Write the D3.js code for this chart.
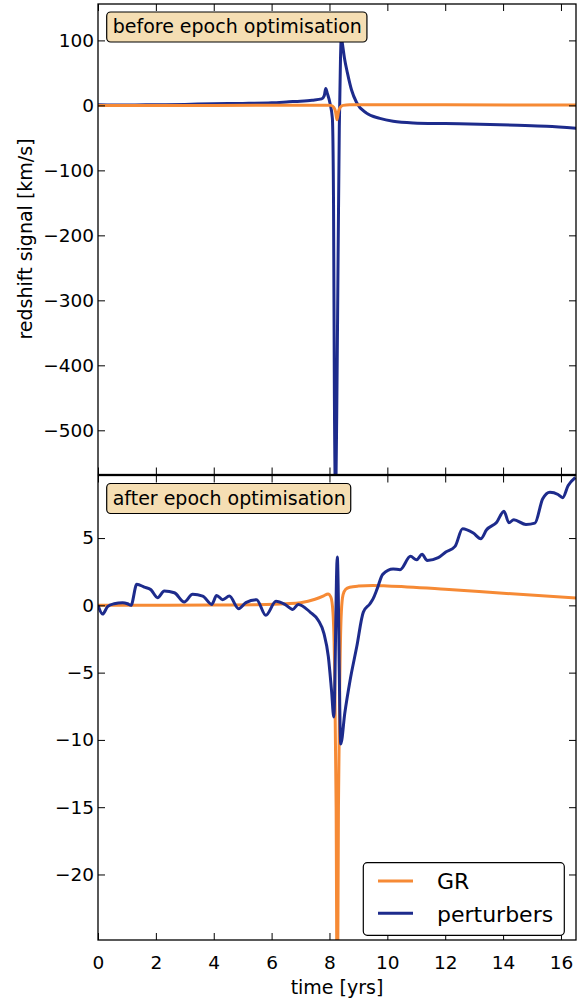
<!DOCTYPE html>
<html>
<head>
<meta charset="utf-8">
<script src="https://cdn.jsdelivr.net/npm/d3@7"></script>
<style>
  body { margin: 0; background: #fff; }
  text { font-family: "DejaVu Sans", sans-serif; fill: #000; }
</style>
</head>
<body>
<div id="chart"></div>
<script>
// [time in yrs, redshift signal in km/s]
var grBefore = [[0,0],[4,0],[7.9,0.3],[8.05,0],[8.15,-3],[8.21,-10],[8.26,-22],[8.31,-10],[8.37,-3],[8.47,0],
  [8.7,0.8],[9.5,1],[12,0.8],[16.6,0.4]];

var pertBefore = [[0,1],[1,0.5],[2,1],[3,1.5],[4,2.5],[5,3],[6,4],[6.6,5.5],[7,6.5],[7.4,8],[7.73,10],[7.82,15],
  [7.87,26],[7.93,18],[8.02,3],[8.1,-20],[8.14,-150],[8.17,-450],[8.21,-600],[8.25,-480],[8.3,-222],[8.34,-33],
  [8.38,70],[8.41,106],[8.45,94],[8.52,72],[8.62,50],[8.76,24],[8.94,4],[9.28,-12],[9.74,-20],[10.2,-24.5],
  [10.9,-27],[12,-28],[13.2,-29],[14.5,-30.5],[15.5,-32],[16.6,-35.5]];

var grAfter = [[0,0],[4,0.02],[5.5,0.05],[6.5,0.12],[7,0.2],[7.5,0.45],[7.8,0.7],[7.95,0.85],[8.05,0.6],[8.12,-0.5],
  [8.18,-5],[8.23,-15],[8.27,-32],[8.31,-15],[8.36,-5],[8.41,-0.5],[8.47,0.8],[8.56,1.2],[8.7,1.35],[9,1.43],
  [9.5,1.47],[10,1.44],[12,1.2],[14,0.9],[16.6,0.54]];

var pertAfter = [[0,0],[0.16,-0.65],[0.33,-0.1],[0.56,0.12],[0.85,0.2],[1.02,0.12],[1.14,0],[1.34,1.56],[1.6,1.36],
  [1.83,1.16],[2.06,0.57],[2.29,1.06],[2.64,0.94],[2.98,0.25],[3.27,0.82],[3.62,0.69],[3.93,0.07],[4.1,0.74],
  [4.31,0.42],[4.54,0.69],[4.86,-0.25],[5.11,0.2],[5.48,0.42],[5.8,-0.74],[6.15,0.3],[6.46,0.07],[6.73,-0.3],
  [6.92,0.07],[7.33,-0.5],[7.61,-1.1],[7.81,-2.1],[7.96,-3.8],[8.07,-6.3],[8.15,-8.3],[8.27,3.6],[8.39,-10.3],
  [8.53,-8],[8.71,-5.6],[8.94,-3.1],[9.17,-0.5],[9.4,0.12],[9.51,0.5],[9.65,1.24],[9.84,2.3],[10.2,2.7],
  [10.44,2.65],[10.8,3.64],[11.01,3.39],[11.2,3.79],[11.38,3.34],[11.76,3.54],[12.02,3.96],[12.34,4.38],
  [12.6,5.69],[12.97,5.37],[13.23,4.95],[13.43,5.62],[13.78,6.18],[14.03,7],[14.2,6.14],[14.37,6.36],
  [14.79,6.01],[15.1,6.11],[15.37,7.92],[15.62,8.41],[15.9,8.24],[16.06,8],[16.25,8.9],[16.5,9.5]];

var xTicks = [0,2,4,6,8,10,12,14,16];
var topTicks = [100,0,-100,-200,-300,-400,-500];
var bottomTicks = [5,0,-5,-10,-15,-20];
var seriesNames = ["GR", "perturbers"];
var colors = {GR: "#f68a35", perturbers: "#1d2b8c"};

var W = 578, H = 1003;
var left = 98, right = 576;

var svg = d3.select("#chart").append("svg")
    .attr("width", W)
    .attr("height", H);

var x = d3.scaleLinear().domain([0, 16.52]).range([left, right]);

var panels = [
  {id: "top", top: 4, bottom: 474.5, domain: [-568, 156], ticks: topTicks,
   gr: grBefore, pert: pertBefore, note: "before epoch optimisation", grOnTop: true},
  {id: "bot", top: 475.5, bottom: 940, domain: [-24.87, 9.65], ticks: bottomTicks,
   gr: grAfter, pert: pertAfter, note: "after epoch optimisation", grOnTop: false}
];

panels.forEach(function(p, i) {
  var y = d3.scaleLinear().domain(p.domain).range([p.bottom, p.top]);

  svg.append("clipPath").attr("id", "clip-" + p.id)
    .append("rect")
      .attr("x", left).attr("y", p.top)
      .attr("width", right - left).attr("height", p.bottom - p.top);

  var line = d3.line()
      .x(function(d) { return x(d[0]); })
      .y(function(d) { return y(d[1]); })
      .curve(d3.curveMonotoneX);

  var order = p.grOnTop ? [["perturbers", p.pert], ["GR", p.gr]] : [["GR", p.gr], ["perturbers", p.pert]];
  var g = svg.append("g").attr("clip-path", "url(#clip-" + p.id + ")");
  order.forEach(function(s) {
    g.append("path")
        .datum(s[1])
        .attr("d", line)
        .attr("fill", "none")
        .attr("stroke", colors[s[0]])
        .attr("stroke-width", 3)
        .attr("stroke-linejoin", "round");
  });

  // axes, ticks pointing inward on all four sides
  var yl = svg.append("g").attr("transform", "translate(" + left + ",0)")
      .call(d3.axisLeft(y).tickValues(p.ticks).tickSizeInner(-7).tickSizeOuter(0).tickPadding(4));
  var yr = svg.append("g").attr("transform", "translate(" + right + ",0)")
      .call(d3.axisRight(y).tickValues(p.ticks).tickSizeInner(-7).tickSizeOuter(0).tickFormat(""));
  var xb = svg.append("g").attr("transform", "translate(0," + p.bottom + ")")
      .call(d3.axisBottom(x).tickValues(xTicks).tickSizeInner(-7).tickSizeOuter(0).tickPadding(16)
        .tickFormat(i == 1 ? d3.format("d") : ""));
  var xt = svg.append("g").attr("transform", "translate(0," + p.top + ")")
      .call(d3.axisTop(x).tickValues(xTicks).tickSizeInner(-7).tickSizeOuter(0).tickFormat(""));

  [yl, yr, xb, xt].forEach(function(a) {
    a.select(".domain").remove();
    a.selectAll(".tick line").attr("stroke", "#000").attr("stroke-width", 1);
    a.selectAll(".tick text").attr("font-size", 18.5).attr("font-family", "DejaVu Sans").attr("fill", "#000");
  });

  svg.append("rect")
      .attr("x", left).attr("y", p.top)
      .attr("width", right - left).attr("height", p.bottom - p.top)
      .attr("fill", "none")
      .attr("stroke", "#000")
      .attr("stroke-width", 1.3);

  // note box in the upper left corner
  var noteY = p.top + 29;
  var nb = svg.append("g");
  var nt = nb.append("text")
      .attr("x", 112.7)
      .attr("y", noteY)
      .attr("font-size", 19)
      .text(p.note);
  var bb = nt.node().getBBox();
  nb.insert("rect", "text")
      .attr("x", bb.x - 6).attr("y", bb.y - 3)
      .attr("width", bb.width + 11).attr("height", bb.height + 8)
      .attr("rx", 4).attr("ry", 4)
      .attr("fill", "#f5deb3")
      .attr("stroke", "#000")
      .attr("stroke-width", 1.2);
});

// axis labels
svg.append("text")
    .attr("transform", "translate(32,239) rotate(-90)")
    .attr("text-anchor", "middle")
    .attr("font-size", 19)
    .text("redshift signal [km/s]");

svg.append("text")
    .attr("x", (left + right) / 2)
    .attr("y", 994)
    .attr("text-anchor", "middle")
    .attr("font-size", 19)
    .text("time [yrs]");

// legend
var legend = svg.append("g");
legend.append("rect")
    .attr("x", 363.3).attr("y", 862.7)
    .attr("width", 201).attr("height", 72.6)
    .attr("rx", 4).attr("ry", 4)
    .attr("fill", "#fff")
    .attr("stroke", "#000")
    .attr("stroke-width", 1.2);

seriesNames.forEach(function(name, k) {
  var ly = 881 + k * 32.3;
  legend.append("line")
      .attr("x1", 378).attr("x2", 413)
      .attr("y1", ly).attr("y2", ly)
      .attr("stroke", colors[name])
      .attr("stroke-width", 3);
  legend.append("text")
      .attr("x", 437)
      .attr("y", ly + 8.3)
      .attr("font-size", 22)
      .text(name);
});
</script>
</body>
</html>
